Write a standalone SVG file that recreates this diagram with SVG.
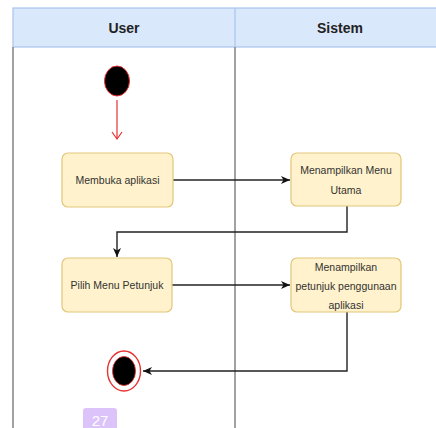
<svg xmlns="http://www.w3.org/2000/svg" width="436" height="428" viewBox="0 0 436 428">
<defs>
<style>
.hdr{fill:#dae8fc;stroke:#a9c4eb;stroke-width:1.2}
.ht{font-family:"Liberation Sans",Arial,sans-serif;font-size:14px;font-weight:bold;fill:#222;text-anchor:middle}
.lane{stroke:#8a8a8a;stroke-width:1.6;fill:none}
.act{fill:#fff2cc;stroke:#e2c77a;stroke-width:1.2}
.at{font-family:"Liberation Sans",Arial,sans-serif;font-size:10.5px;fill:#333;text-anchor:middle}
.c{stroke:#222;stroke-width:1.4;fill:none}
</style>
<marker id="ah" markerWidth="10" markerHeight="10" refX="9" refY="5" orient="auto" markerUnits="userSpaceOnUse">
<path d="M0,1 L9,5 L0,9 L2.5,5 Z" fill="#111"/>
</marker>
<marker id="ro" markerWidth="12" markerHeight="12" refX="10" refY="6" orient="auto" markerUnits="userSpaceOnUse">
<path d="M3,1 L10,6 L3,11" fill="none" stroke="#e83030" stroke-width="1.2"/>
</marker>
</defs>
<rect width="436" height="428" fill="#fff"/>
<g id="lanes">
<rect class="hdr" x="13" y="8" width="430" height="39"/>
<line x1="235" y1="8" x2="235" y2="47" stroke="#a9c4eb" stroke-width="1.2"/>
<text class="ht" x="124" y="33">User</text>
<text class="ht" x="340" y="33">Sistem</text>
<line class="lane" x1="13" y1="47" x2="13" y2="428"/>
<line class="lane" x1="235" y1="47" x2="235" y2="428"/>
</g>
<g id="connectors">
<line x1="117" y1="100" x2="117" y2="139" stroke="#e83030" stroke-width="1.2" marker-end="url(#ro)"/>
<line class="c" x1="173" y1="180" x2="290" y2="180" marker-end="url(#ah)"/>
<polyline class="c" points="347,206 347,232 117,232 117,257" marker-end="url(#ah)"/>
<line class="c" x1="172" y1="285" x2="290" y2="285" marker-end="url(#ah)"/>
<polyline class="c" points="347,312 347,371 143,371" marker-end="url(#ah)"/>
</g>
<g id="start">
<ellipse cx="117" cy="81" rx="12.5" ry="15" fill="#000" stroke="#e83030" stroke-width="1"/>
</g>
<g id="membuka">
<rect class="act" x="62" y="153" width="111" height="54" rx="6"/>
<text class="at" x="117.5" y="184">Membuka aplikasi</text>
</g>
<g id="menu-utama">
<rect class="act" x="291" y="153" width="110" height="53" rx="6"/>
<text class="at" x="346" y="174">Menampilkan Menu</text>
<text class="at" x="346" y="194">Utama</text>
</g>
<g id="pilih">
<rect class="act" x="62" y="258" width="110" height="54" rx="6"/>
<text class="at" x="117" y="289">Pilih Menu Petunjuk</text>
</g>
<g id="petunjuk">
<rect class="act" x="291" y="258" width="110" height="54" rx="6"/>
<text class="at" x="346" y="271">Menampilkan</text>
<text class="at" x="346" y="290">petunjuk penggunaan</text>
<text class="at" x="346" y="309">aplikasi</text>
</g>
<g id="end">
<ellipse cx="124" cy="371" rx="16.5" ry="20" fill="#fff" stroke="#e83030" stroke-width="1.4"/>
<ellipse cx="124" cy="371" rx="11.5" ry="14.5" fill="#000" stroke="#e83030" stroke-width="0.8"/>
</g>
<g id="badge">
<rect x="83" y="408" width="34" height="24" rx="3" fill="#dcc4fb"/>
<text x="100" y="426" font-family="Liberation Sans,Arial,sans-serif" font-size="15" fill="#fff" text-anchor="middle">27</text>
</g>
</svg>
